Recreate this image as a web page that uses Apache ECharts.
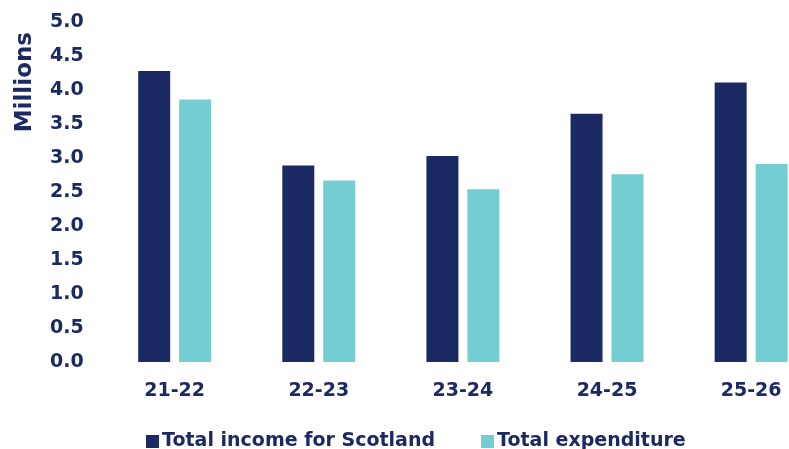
<!DOCTYPE html>
<html>
<head>
<meta charset="utf-8">
<script src="https://cdn.jsdelivr.net/npm/echarts@6/dist/echarts.min.js"></script>
<style>
html,body{margin:0;padding:0;background:#fff;overflow:hidden;}
#chart{width:830px;height:449px;}
</style>
</head>
<body>
<div id="chart"></div>
<script>
const categories = ['21-22', '22-23', '23-24', '24-25', '25-26'];
const incomeValues = [4.28, 2.89, 3.03, 3.65, 4.11];
const expenditureValues = [3.86, 2.67, 2.54, 2.76, 2.91];
const seriesNames = ['Total income for Scotland', 'Total expenditure'];
const yAxisTitle = 'Millions';

const NAVY = '#1c2a64';
const TEAL = '#74cdd3';
const FONT = 'DejaVu Sans';

const chart = echarts.init(document.getElementById('chart'), null, {renderer: 'canvas'});
chart.setOption({
  animation: false,
  backgroundColor: '#ffffff',
  grid: {left: 102.6, top: 22, right: 6.8, bottom: 87, containLabel: false},
  legend: {
    left: 146, top: 432, padding: 0,
    itemWidth: 13, itemHeight: 13, itemGap: 46,
    icon: 'rect',
    textStyle: {color: NAVY, fontFamily: FONT, fontWeight: 'bold', fontSize: 19, padding: [0, 0, 0, -2]},
    data: seriesNames
  },
  graphic: [{
    type: 'text',
    left: 14, top: 32,
    rotation: Math.PI / 2,
    style: {text: yAxisTitle, fill: NAVY, font: 'bold 23px "DejaVu Sans"'}
  }],
  xAxis: {
    type: 'category',
    data: categories,
    axisLine: {show: false},
    axisTick: {show: false},
    axisLabel: {color: NAVY, fontFamily: FONT, fontWeight: 'bold', fontSize: 19, margin: 20}
  },
  yAxis: {
    type: 'value',
    min: 0, max: 5, interval: 0.5,
    axisLine: {show: false},
    axisTick: {show: false},
    splitLine: {show: false},
    axisLabel: {
      color: NAVY, fontFamily: FONT, fontWeight: 'bold', fontSize: 19, margin: 19,
      formatter: v => v.toFixed(1)
    }
  },
  series: [
    {name: seriesNames[0], type: 'bar', data: incomeValues, barWidth: 32, barGap: '28%',
     itemStyle: {color: NAVY}},
    {name: seriesNames[1], type: 'bar', data: expenditureValues, barWidth: 32,
     itemStyle: {color: TEAL}}
  ]
});
</script>
</body>
</html>
